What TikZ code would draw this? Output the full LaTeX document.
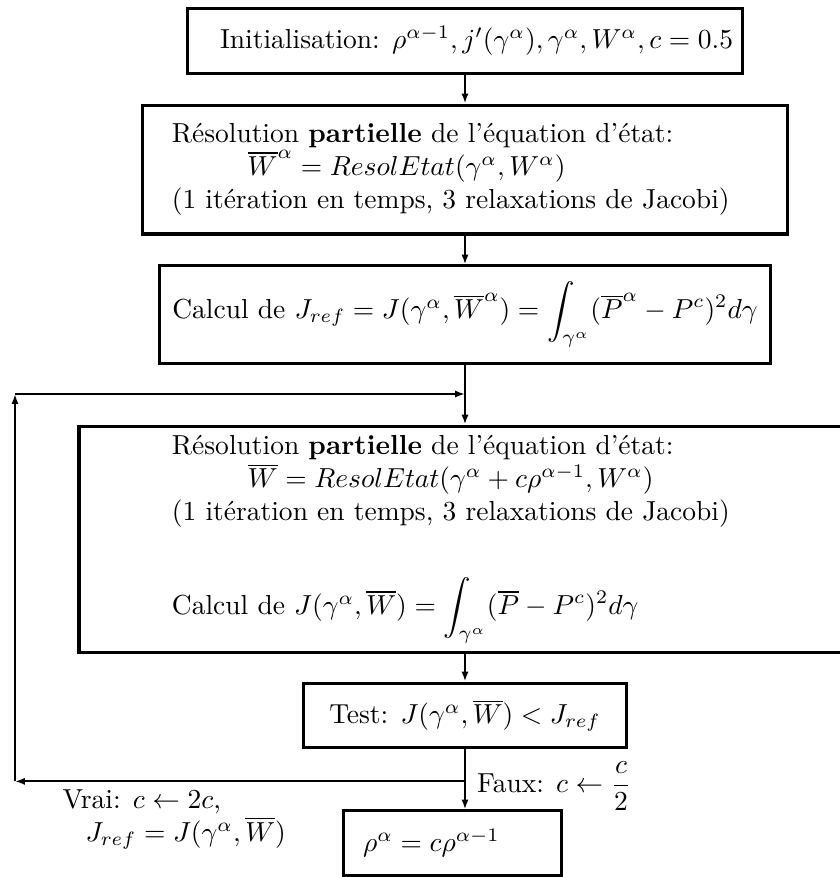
\documentclass[tikz,border=0pt]{standalone}
\usepackage{amsmath}
\usetikzlibrary{positioning,arrows.meta}

\tikzset{
  etape/.style={draw, rectangle, line width=1.1pt, inner sep=0pt},
  fleche/.style={line width=0.75pt, -{Latex[length=3.6pt,width=2.6pt]}},
  trait/.style={line width=0.75pt},
}

\begin{document}
\begin{tikzpicture}[x=0.3636pt,y=-0.3636pt]
    \clip (0,0) rectangle (840,877);
    % les etapes
    \node[etape, minimum width=201.5pt, minimum height=23.3pt] (init) at (465,41)
        {\hspace*{8.4pt}Initialisation: $\rho^{\alpha-1},j'(\gamma^\alpha),\gamma^\alpha,W^\alpha,c = 0.5$};
    \node[etape, align=left, inner xsep=10.5pt, text width=213.2pt,
          minimum height=46.9pt] (resol) at (465,169.5)
        {R\'esolution \textbf{partielle} de l'\'equation d'\'etat:\\
         \hspace*{27.6pt}$\overline{W}^\alpha = ResolEtat(\gamma^\alpha,W^\alpha)$\\
         (1 it\'eration en temps, 3 relaxations de Jacobi)};
    \node[etape, inner xsep=1pt, minimum width=222.5pt, minimum height=35.3pt] (calc) at (465,314.5)
        {Calcul de $J_{ref} = J(\gamma^\alpha,\overline{W}^\alpha) = \displaystyle\int_{\gamma^\alpha}(\overline{P}^\alpha - P^c)^2 d\gamma$};
    \node[etape, align=left, inner xsep=33.8pt, text width=213.1pt,
          minimum height=82.5pt] (boucle) at (465,539.5)
        {R\'esolution \textbf{partielle} de l'\'equation d'\'etat:\\
         \hspace*{27.6pt}$\overline{W} = ResolEtat(\gamma^\alpha + c\rho^{\alpha-1},W^\alpha)$\\
         (1 it\'eration en temps, 3 relaxations de Jacobi)\\[17pt]
         Calcul de $J(\gamma^\alpha,\overline{W}) = \displaystyle\int_{\gamma^\alpha}(\overline{P} - P^c)^2 d\gamma$};
    \node[etape, minimum width=117.5pt, minimum height=23.6pt] (test) at (465,715.5)
        {Test: $J(\gamma^\alpha,\overline{W}) < J_{ref}$};
    \coordinate[below=11.6pt of test] (split);
    \node[etape, align=left, inner xsep=7.3pt, text width=65pt,
          minimum height=23.3pt] (res) at (452.5,843)
        {$\rho^\alpha = c\rho^{\alpha-1}$};

    % la boucle
    \coordinate (coinhaut) at (15,394);
    \coordinate (coinbas) at (coinhaut |- split);
    \coordinate (jonction) at (calc.south |- coinhaut);

    \draw[fleche] (init) -- (resol);
    \draw[fleche] (resol) -- (calc);
    \draw[fleche] (calc) -- (boucle);
    \draw[fleche] (boucle) -- (test);
    \draw[trait] (test) -- (split);
    \draw[fleche] (split) -- (split |- res.north);
    \draw[fleche] (split) -- (coinbas);
    \draw[fleche] (coinbas) -- (coinhaut);
    \draw[fleche] (coinhaut) -- (jonction);

    % les etiquettes
    \node[align=left, anchor=north west, inner sep=0pt] (vrai) at (62,789)
        {Vrai: $c \leftarrow 2c$,\\ \hspace*{8.4pt}$J_{ref} = J(\gamma^\alpha,\overline{W})$};
    \node[right=4.2pt of split, yshift=-1.8pt, inner sep=0pt] (faux)
        {Faux: $c \leftarrow \dfrac{c}{2}$};
\end{tikzpicture}
\end{document}
